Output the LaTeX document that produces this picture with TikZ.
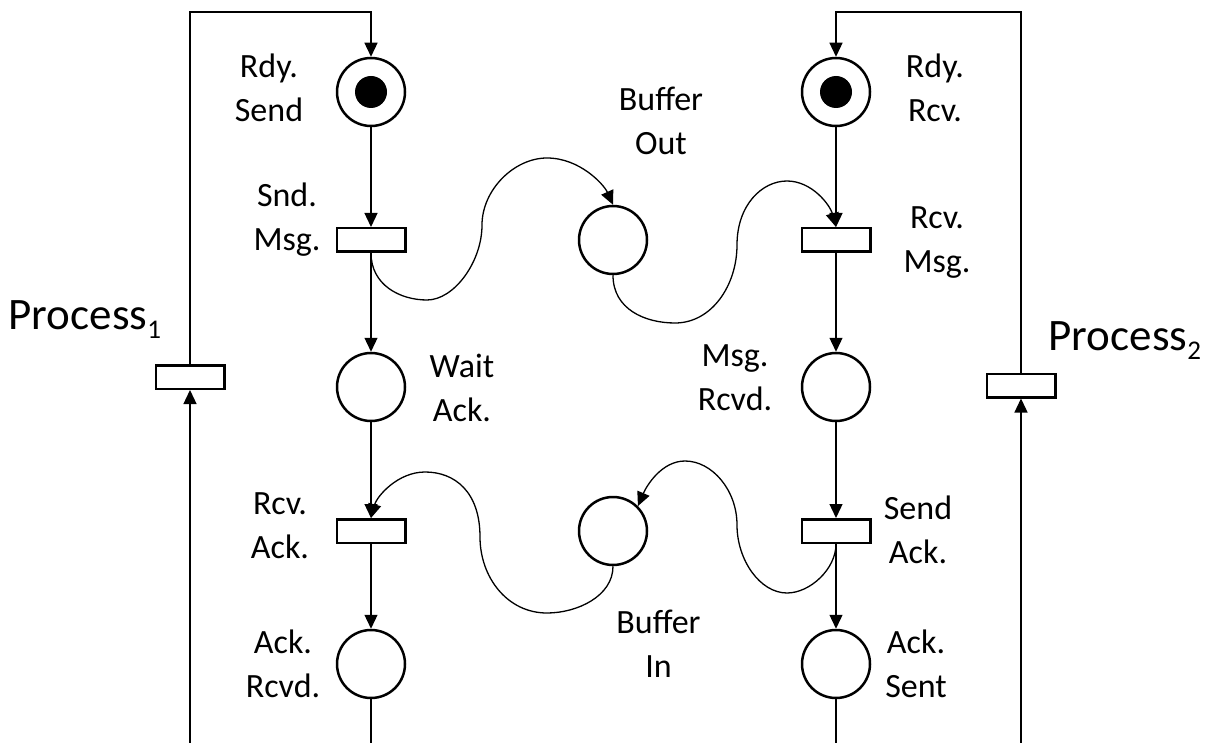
\documentclass[tikz,border=0pt]{standalone}
\usepackage{fontspec}
\setmainfont{Carlito}
\usetikzlibrary{arrows.meta}
\begin{document}
\begin{tikzpicture}[x=1pt,y=-1pt,
  place/.style={circle,draw,line width=2.5pt,minimum size=68pt,inner sep=0pt},
  trans/.style={rectangle,draw,line width=2.5pt,minimum width=68.5pt,minimum height=23.5pt,inner sep=0pt},
  token/.style={circle,fill,minimum size=32pt,inner sep=0pt},
  arc/.style={line width=1.3pt,-{Triangle[length=14pt,width=13pt]}},
  plain/.style={line width=1.3pt},
  lbl/.style={font=\fontsize{34}{44}\selectfont,anchor=base,inner sep=0pt},
  big/.style={font=\fontsize{45}{54}\selectfont,anchor=base west,inner sep=0pt}]
\useasboundingbox (0,0) rectangle (1218,743);
\fill[white] (0,0) rectangle (1218,743);

% sender process
\node[place] (rdysend) at (371,92) {};
\node[token] (tok1) at (rdysend.center) {};
\node[trans] (sndmsg) at (371,240) {};
\node[place] (waitack) at (371,387) {};
\node[trans] (rcvack) at (371,531) {};
\node[place] (ackrcvd) at (371,664) {};
\node[trans] (proc1t) at (190,377) {};

% receiver process
\node[place] (rdyrcv) at (836,92) {};
\node[token] (tok2) at (rdyrcv.center) {};
\node[trans] (rcvmsg) at (836,240) {};
\node[place] (msgrcvd) at (836,387) {};
\node[trans] (sendack) at (836,531) {};
\node[place] (acksent) at (836,664) {};
\node[trans] (proc2t) at (1021,385.5) {};

% buffers
\node[place] (bufout) at (613,240) {};
\node[place] (bufin) at (613,531) {};

% labels
\node[lbl] (lrdysend) at (269,122) {\begin{tabular}[b]{@{}c@{}}Rdy.\\Send\end{tabular}};
\node[lbl] (lsndmsg) at (287,251) {\begin{tabular}[b]{@{}c@{}}Snd.\\Msg.\end{tabular}};
\node[lbl] (lwaitack) at (462,421) {\begin{tabular}[b]{@{}c@{}}Wait\\Ack.\end{tabular}};
\node[lbl] (lrcvack) at (280,558) {\begin{tabular}[b]{@{}c@{}}Rcv.\\Ack.\end{tabular}};
\node[lbl] (lackrcvd) at (283,697) {\begin{tabular}[b]{@{}c@{}}Ack.\\Rcvd.\end{tabular}};
\node[lbl] (lbufout) at (661,155) {\begin{tabular}[b]{@{}c@{}}Buffer\\Out\end{tabular}};
\node[lbl] (lbufin) at (658.5,677) {\begin{tabular}[b]{@{}c@{}}Buffer\\In\end{tabular}};
\node[lbl] (lrdyrcv) at (935,122) {\begin{tabular}[b]{@{}c@{}}Rdy.\\Rcv.\end{tabular}};
\node[lbl] (lrcvmsg) at (937,273) {\begin{tabular}[b]{@{}c@{}}Rcv.\\Msg.\end{tabular}};
\node[lbl] (lmsgrcvd) at (735,410) {\begin{tabular}[b]{@{}c@{}}Msg.\\Rcvd.\end{tabular}};
\node[lbl] (lsendack) at (918,563) {\begin{tabular}[b]{@{}c@{}}Send\\Ack.\end{tabular}};
\node[lbl] (lacksent) at (916,697) {\begin{tabular}[b]{@{}c@{}}Ack.\\Sent\end{tabular}};
\node[big] (lproc1) at (8.5,330) {Process\raisebox{-9pt}{\fontsize{27}{27}\selectfont 1}};
\node[big] (lproc2) at (1048.5,350) {Process\raisebox{-9pt}{\fontsize{27}{27}\selectfont 2}};

% frame points
\coordinate (top1) at (371,12);
\coordinate (top2) at (836,12);
\coordinate (bot1) at (190,743);
\coordinate (bot2) at (371,743);
\coordinate (bot3) at (836,743);
\coordinate (bot4) at (1021,743);

% sender chain
\draw[arc] (proc1t.north) |- (top1) -- (rdysend.north);
\draw[arc] (rdysend.south) -- (sndmsg.north);
\draw[arc] (sndmsg.south) -- (waitack.north);
\draw[arc] (waitack.south) -- (rcvack.north);
\draw[arc] (rcvack.south) -- (ackrcvd.north);
\draw[plain] (ackrcvd.south) -- (bot2);
\draw[arc] (bot1) -- (proc1t.south);

% receiver chain
\draw[arc] (proc2t.north) |- (top2) -- (rdyrcv.north);
\draw[arc] (rdyrcv.south) -- (rcvmsg.north);
\draw[arc] (rcvmsg.south) -- (msgrcvd.north);
\draw[arc] (msgrcvd.south) -- (sendack.north);
\draw[arc] (sendack.south) -- (acksent.north);
\draw[plain] (acksent.south) -- (bot3);
\draw[arc] (bot4) -- (proc2t.south);

% message path
\coordinate (a1) at (427,300);
\coordinate (a2) at (482,225);
\coordinate (a3) at (547,158);
\draw[arc] (sndmsg.south) .. controls +(0,32) and +(-27,0) .. (a1)
  .. controls +(27,0) and +(0,37) .. (a2)
  .. controls +(0,-35) and +(-33,0) .. (a3)
  .. controls +(33,0) and +(-9,-20) .. (bufout.north);

\coordinate (b1) at (675,323);
\coordinate (b2) at (737,245);
\coordinate (b3) at (787,181);
\draw[arc] (bufout.south) .. controls +(0,34) and +(-30,0) .. (b1)
  .. controls +(37,0) and +(0,40) .. (b2)
  .. controls +(0,-40) and +(-25,0) .. (b3)
  .. controls +(25,0) and +(-6,-22) .. (rcvmsg.north);

% acknowledgement path
\coordinate (c1) at (787,593);
\coordinate (c2) at (737,525);
\coordinate (c3) at (685,461);
\draw[arc] (sendack.south) .. controls +(0,25) and +(23,0) .. (c1)
  .. controls +(-27,0) and +(0,35) .. (c2)
  .. controls +(0,-35) and +(27,0) .. (c3)
  .. controls +(-23,0) and +(9,-21) .. (bufin.45);

\coordinate (d1) at (547,613);
\coordinate (d2) at (480,537);
\coordinate (d3) at (425,472);
\draw[arc] (bufin.south) .. controls +(0,30) and +(30,0) .. (d1)
  .. controls +(-40,0) and +(0,40) .. (d2)
  .. controls +(0,-45) and +(30,0) .. (d3)
  .. controls +(-27,0) and +(6,-22) .. (rcvack.north);
\end{tikzpicture}
\end{document}
